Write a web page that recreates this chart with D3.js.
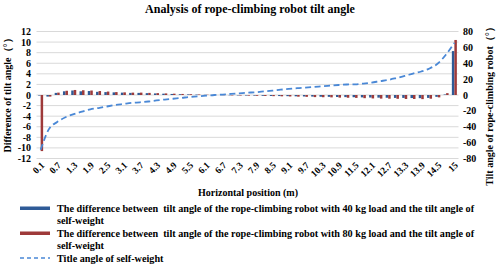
<!DOCTYPE html>
<html>
<head>
<meta charset="utf-8">
<script src="https://cdn.jsdelivr.net/npm/d3@7"></script>
<style>
  body { margin: 0; background: #fff; }
  svg text { font-family: "Liberation Serif", "Times New Roman", serif; font-weight: bold; fill: #000; white-space: pre; }
</style>
</head>
<body>
<svg id="chart" width="500" height="268"></svg>
<script>
const positions = ["0.1","0.4","0.7","1","1.3","1.6","1.9","2.2","2.5","2.8","3.1","3.4","3.7","4","4.3","4.6","4.9","5.2","5.5","5.8","6.1","6.4","6.7","7","7.3","7.6","7.9","8.2","8.5","8.8","9.1","9.4","9.7","10","10.3","10.6","10.9","11.2","11.5","11.8","12.1","12.4","12.7","13","13.3","13.6","13.9","14.2","14.5","14.8","15"];
const shownLabels = ["0.1","0.7","1.3","1.9","2.5","3.1","3.7","4.3","4.9","5.5","6.1","6.7","7.3","7.9","8.5","9.1","9.7","10.3","10.9","11.5","12.1","12.7","13.3","13.9","14.5","15"];

const diff40 = [-0.1,-0.3,0.4,0.7,0.85,0.7,0.75,0.6,0.55,0.5,0.45,0.4,0.4,0.35,0.3,0.25,0.2,0.15,0.12,0.08,0.04,0,-0.03,-0.06,-0.08,-0.1,-0.12,-0.15,-0.18,-0.2,-0.22,-0.25,-0.28,-0.3,-0.33,-0.35,-0.38,-0.4,-0.42,-0.45,-0.48,-0.5,-0.52,-0.55,-0.55,-0.58,-0.6,-0.55,-0.35,0.1,8.3];
const diff80 = [-10.6,-0.3,0.45,0.8,0.95,0.9,0.85,0.75,0.65,0.55,0.5,0.45,0.45,0.4,0.35,0.3,0.25,0.2,0.15,0.1,0.05,0,-0.04,-0.08,-0.1,-0.12,-0.15,-0.18,-0.22,-0.25,-0.28,-0.32,-0.35,-0.4,-0.42,-0.45,-0.5,-0.52,-0.55,-0.6,-0.65,-0.68,-0.7,-0.72,-0.75,-0.75,-0.78,-0.7,-0.45,0.35,10.4];
const selfWeight = [-69,-43,-34,-28,-24,-21,-18,-16.4,-14.5,-12.6,-11.3,-10,-9.2,-8.2,-6.9,-5.7,-4.7,-3.7,-2.5,-1.8,-0.9,0,0.6,1.4,2.1,2.9,3.5,4.5,5.5,6.7,7.6,8.6,9.3,10.1,11,11.8,12.6,13.2,13.5,14.4,15.7,17.4,19,21.4,24,27,29.6,33.4,39.7,51,65.5];

const leftTicks = [12,10,8,6,4,2,0,-2,-4,-6,-8,-10,-12];
const rightTicks = [80,60,40,20,0,-20,-40,-60,-80];

const legendItems = [
  { kind: "bar", color: "#2F5B97", lines: ["The difference between  tilt angle of the rope-climbing robot with 40 kg load and the tilt angle of", "self-weight"] },
  { kind: "bar", color: "#9E3A3A", lines: ["The difference between  tilt angle of the rope-climbing robot with 80 kg load and the tilt angle of", "self-weight"] },
  { kind: "line", color: "#4A88D6", lines: ["Title angle of self-weight"] }
];

const plot = { left: 36.5, right: 458.5, top: 31.5, bottom: 158.5 };
const svg = d3.select("#chart");

const x = d3.scaleBand().domain(positions).range([plot.left, plot.right]).padding(0);
const yL = d3.scaleLinear().domain([-12, 12]).range([plot.bottom, plot.top]);
const yR = d3.scaleLinear().domain([-80, 80]).range([plot.bottom, plot.top]);
const barW = 2.5;
const sub = d3.scaleBand().domain(["a", "b"]).range([-barW, barW]);

// grid
svg.append("g").selectAll("line").data(leftTicks).enter().append("line")
  .attr("x1", plot.left).attr("x2", plot.right)
  .attr("y1", d => yL(d)).attr("y2", d => yL(d))
  .style("stroke", "#d9d9d9").style("stroke-width", 1);

// bars
const barSeries = [{ key: "a", vals: diff40, color: legendItems[0].color }, { key: "b", vals: diff80, color: legendItems[1].color }];
barSeries.forEach(s => {
  svg.append("g").selectAll("rect").data(s.vals).enter().append("rect")
    .attr("x", (d, i) => x(positions[i]) + x.bandwidth() / 2 + sub(s.key))
    .attr("width", sub.bandwidth())
    .attr("y", d => yL(Math.max(0, d)))
    .attr("height", d => Math.abs(yL(d) - yL(0)))
    .style("fill", s.color);
});

// dashed line
const line = d3.line()
  .x((d, i) => x(positions[i]) + x.bandwidth() / 2)
  .y(d => yR(d))
  .curve(d3.curveMonotoneX);
svg.append("path").datum(selfWeight)
  .attr("d", line)
  .style("fill", "none")
  .style("stroke", legendItems[2].color)
  .style("stroke-width", 1.8)
  .style("stroke-dasharray", "6,3.5");

// left axis labels
svg.append("g").selectAll("text").data(leftTicks).enter().append("text")
  .attr("x", 31).attr("y", d => yL(d)).attr("dy", "0.35em")
  .attr("text-anchor", "end").style("font-size", "10px")
  .text(d => d);

// right axis labels
svg.append("g").selectAll("text").data(rightTicks).enter().append("text")
  .attr("x", 463).attr("y", d => yR(d)).attr("dy", "0.35em")
  .attr("text-anchor", "start").style("font-size", "10px")
  .text(d => d);

// x axis labels
svg.append("g").selectAll("text").data(shownLabels).enter().append("text")
  .attr("transform", d => `translate(${x(d) + x.bandwidth() / 2 + 2},${plot.bottom + 5}) rotate(-45)`)
  .attr("text-anchor", "end").attr("dy", "0.35em")
  .style("font-size", "9.5px")
  .text(d => d);

// titles
svg.append("text").attr("x", 250).attr("y", 13).attr("text-anchor", "middle")
  .style("font-size", "12px").text("Analysis of rope-climbing robot tilt angle");

svg.append("text").attr("x", 248).attr("y", 196).attr("text-anchor", "middle")
  .style("font-size", "10px").text("Horizontal position (m)");

svg.append("text").attr("transform", "translate(11,93) rotate(-90)")
  .attr("text-anchor", "middle").style("font-size", "10px")
  .text("Difference of tilt angle（°）");

svg.append("text").attr("transform", "translate(493,104) rotate(-90)")
  .attr("text-anchor", "middle").style("font-size", "10px")
  .text("Tilt angle of rope-climbing robot（°）");

// legend
let ly = 208;
legendItems.forEach(item => {
  if (item.kind === "bar") {
    svg.append("rect").attr("x", 20).attr("y", ly - 1.5).attr("width", 30).attr("height", 3.5).style("fill", item.color);
  } else {
    svg.append("line").attr("x1", 20).attr("x2", 50).attr("y1", ly).attr("y2", ly)
      .style("stroke", item.color).style("stroke-width", 1.5).style("stroke-dasharray", "4,3");
  }
  item.lines.forEach((t, j) => {
    svg.append("text").attr("x", 57).attr("y", ly + 3.5 + j * 12.5)
      .style("font-size", "10.2px").text(t);
  });
  ly += item.lines.length * 12.5;
});
</script>
</body>
</html>
